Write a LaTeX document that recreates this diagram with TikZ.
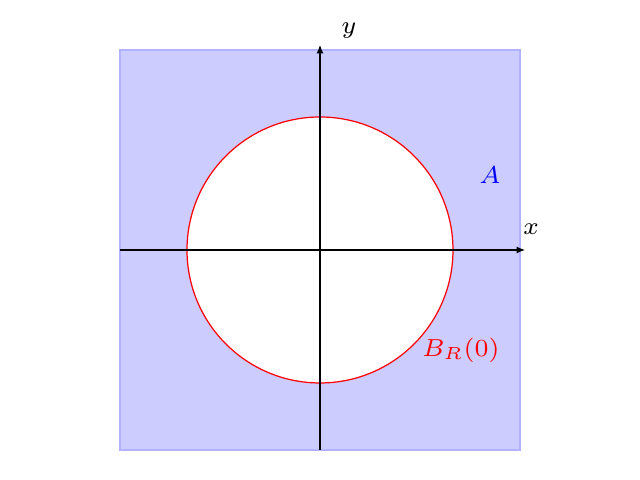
\documentclass[tikz,border=0pt]{standalone}
\usetikzlibrary{arrows.meta}
\begin{document}
\begin{tikzpicture}[x=1cm,y=1cm,
  axis/.style={line width=0.3pt,-{Latex[length=2.4pt,width=2pt]}},
  lbl/.style={font=\fontsize{7.3}{8}\selectfont,inner sep=0pt}]
\useasboundingbox (-3.2,-2.3) rectangle (3.2,2.5);
\fill[blue!20] (-2,-2) rectangle (2,2);
\draw[blue!30,line width=0.3pt] (-2,-2) rectangle (2,2);
\fill[white] (0,0) circle (1.33);
\draw[red,line width=0.35pt] (0,0) circle (1.33);
\coordinate (xs) at (-2,0);
\coordinate (xe) at (2.05,0);
\coordinate (ys) at (0,-2);
\coordinate (ye) at (0,2.05);
\draw[axis] (xs) -- (xe);
\draw[axis] (ys) -- (ye);
\node[lbl] (xl) at (2.11,0.21) {$x$};
\node[lbl] (yl) at (0.29,2.19) {$y$};
\node[lbl,blue] (al) at (1.7,0.75) {$A$};
\node[lbl,red] (bl) at (1.41,-1.0) {$B_R(0)$};
\end{tikzpicture}
\end{document}
